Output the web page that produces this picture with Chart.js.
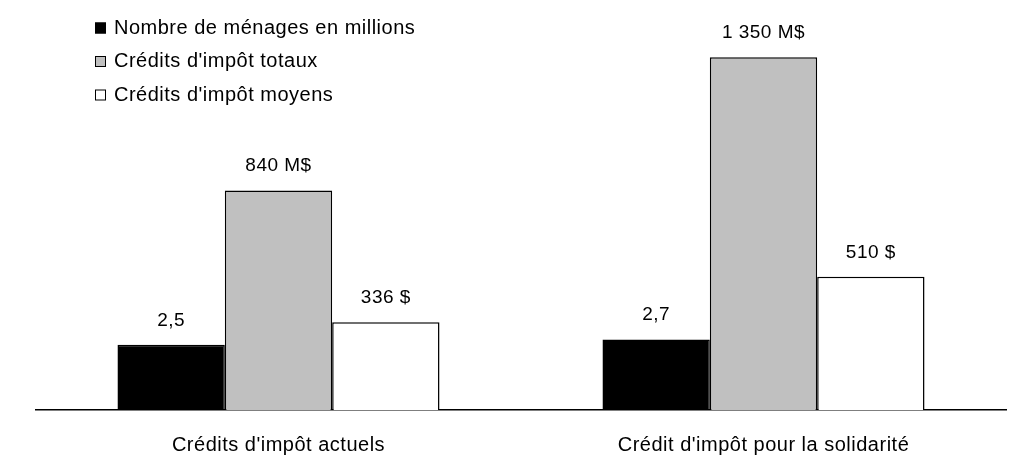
<!DOCTYPE html>
<html>
<head>
<meta charset="utf-8">
<script src="https://cdn.jsdelivr.net/npm/chart.js@4"></script>
<style>
  html, body { margin: 0; padding: 0; background: #fff; }
  #wrap { width: 1021px; height: 472px; position: relative; }
</style>
</head>
<body>
<div id="wrap"><canvas id="chart"></canvas></div>
<script>
const categories = ["Crédits d'impôt actuels", "Crédit d'impôt pour la solidarité"];
const seriesNames = ['Nombre de ménages en millions', "Crédits d'impôt totaux", "Crédits d'impôt moyens"];
const households = [2.5, 2.7];      // millions
const totalCredits = [840, 1350];   // M$
const averageCredits = [336, 510];  // $

const FONT = "'Liberation Sans', Arial, sans-serif";
const SPACING = '0.5px';

function spaced(n) {
  return String(n).replace(/\B(?=(\d{3})+(?!\d))/g, ' ');
}
const formatters = [
  v => String(v).replace('.', ','),
  v => spaced(v) + ' M$',
  v => spaced(v) + ' $'
];

// the original text is set a little wider than plain Arial
const wideText = {
  id: 'wideText',
  beforeDraw(chart) {
    chart.ctx.letterSpacing = SPACING;
  }
};

// value labels above each bar
const valueLabels = {
  id: 'valueLabels',
  afterDatasetsDraw(chart) {
    const ctx = chart.ctx;
    ctx.save();
    ctx.letterSpacing = SPACING;
    ctx.font = '19px ' + FONT;
    ctx.fillStyle = '#000';
    ctx.textAlign = 'center';
    ctx.textBaseline = 'alphabetic';
    chart.data.datasets.forEach((ds, i) => {
      chart.getDatasetMeta(i).data.forEach((bar, j) => {
        ctx.fillText(formatters[i](ds.data[j]), bar.x, bar.y - 19);
      });
    });
    ctx.restore();
  }
};

// legend drawn inside the plot, top left
const insideLegend = {
  id: 'insideLegend',
  afterDraw(chart) {
    const ctx = chart.ctx;
    ctx.save();
    ctx.letterSpacing = SPACING;
    ctx.font = '20px ' + FONT;
    ctx.textBaseline = 'middle';
    chart.data.datasets.forEach((ds, i) => {
      const y = 28 + i * 33.5;
      ctx.fillStyle = ds.backgroundColor;
      ctx.fillRect(95, y - 5.5, 11, 11);
      ctx.strokeStyle = '#000';
      ctx.lineWidth = 1;
      ctx.strokeRect(95.5, y - 5, 10, 10);
      ctx.fillStyle = '#000';
      ctx.fillText(ds.label, 114, y);
    });
    ctx.restore();
  }
};

const yMax = 1500;

new Chart(document.getElementById('chart'), {
  type: 'bar',
  data: {
    labels: categories,
    datasets: [
      { label: seriesNames[0], data: households, yAxisID: 'yCount', backgroundColor: '#000000' },
      { label: seriesNames[1], data: totalCredits, yAxisID: 'y', backgroundColor: '#C0C0C0' },
      { label: seriesNames[2], data: averageCredits, yAxisID: 'y', backgroundColor: '#FFFFFF' }
    ].map(d => Object.assign(d, { borderColor: '#000', borderWidth: 1.5, categoryPercentage: 0.664, barPercentage: 1 }))
  },
  options: {
    responsive: true,
    maintainAspectRatio: false,
    animation: false,
    layout: { padding: { left: 36, right: 15, top: 18, bottom: 0 } },
    plugins: {
      legend: { display: false },
      tooltip: { enabled: false }
    },
    scales: {
      x: {
        grid: { display: false },
        border: { color: '#000', width: 1.5 },
        ticks: { color: '#000', font: { family: FONT, size: 20 }, padding: 15 }
      },
      y: { display: false, min: 0, max: yMax },
      yCount: { display: false, min: 0, max: yMax / 100 }
    }
  },
  plugins: [wideText, valueLabels, insideLegend]
});
</script>
</body>
</html>
